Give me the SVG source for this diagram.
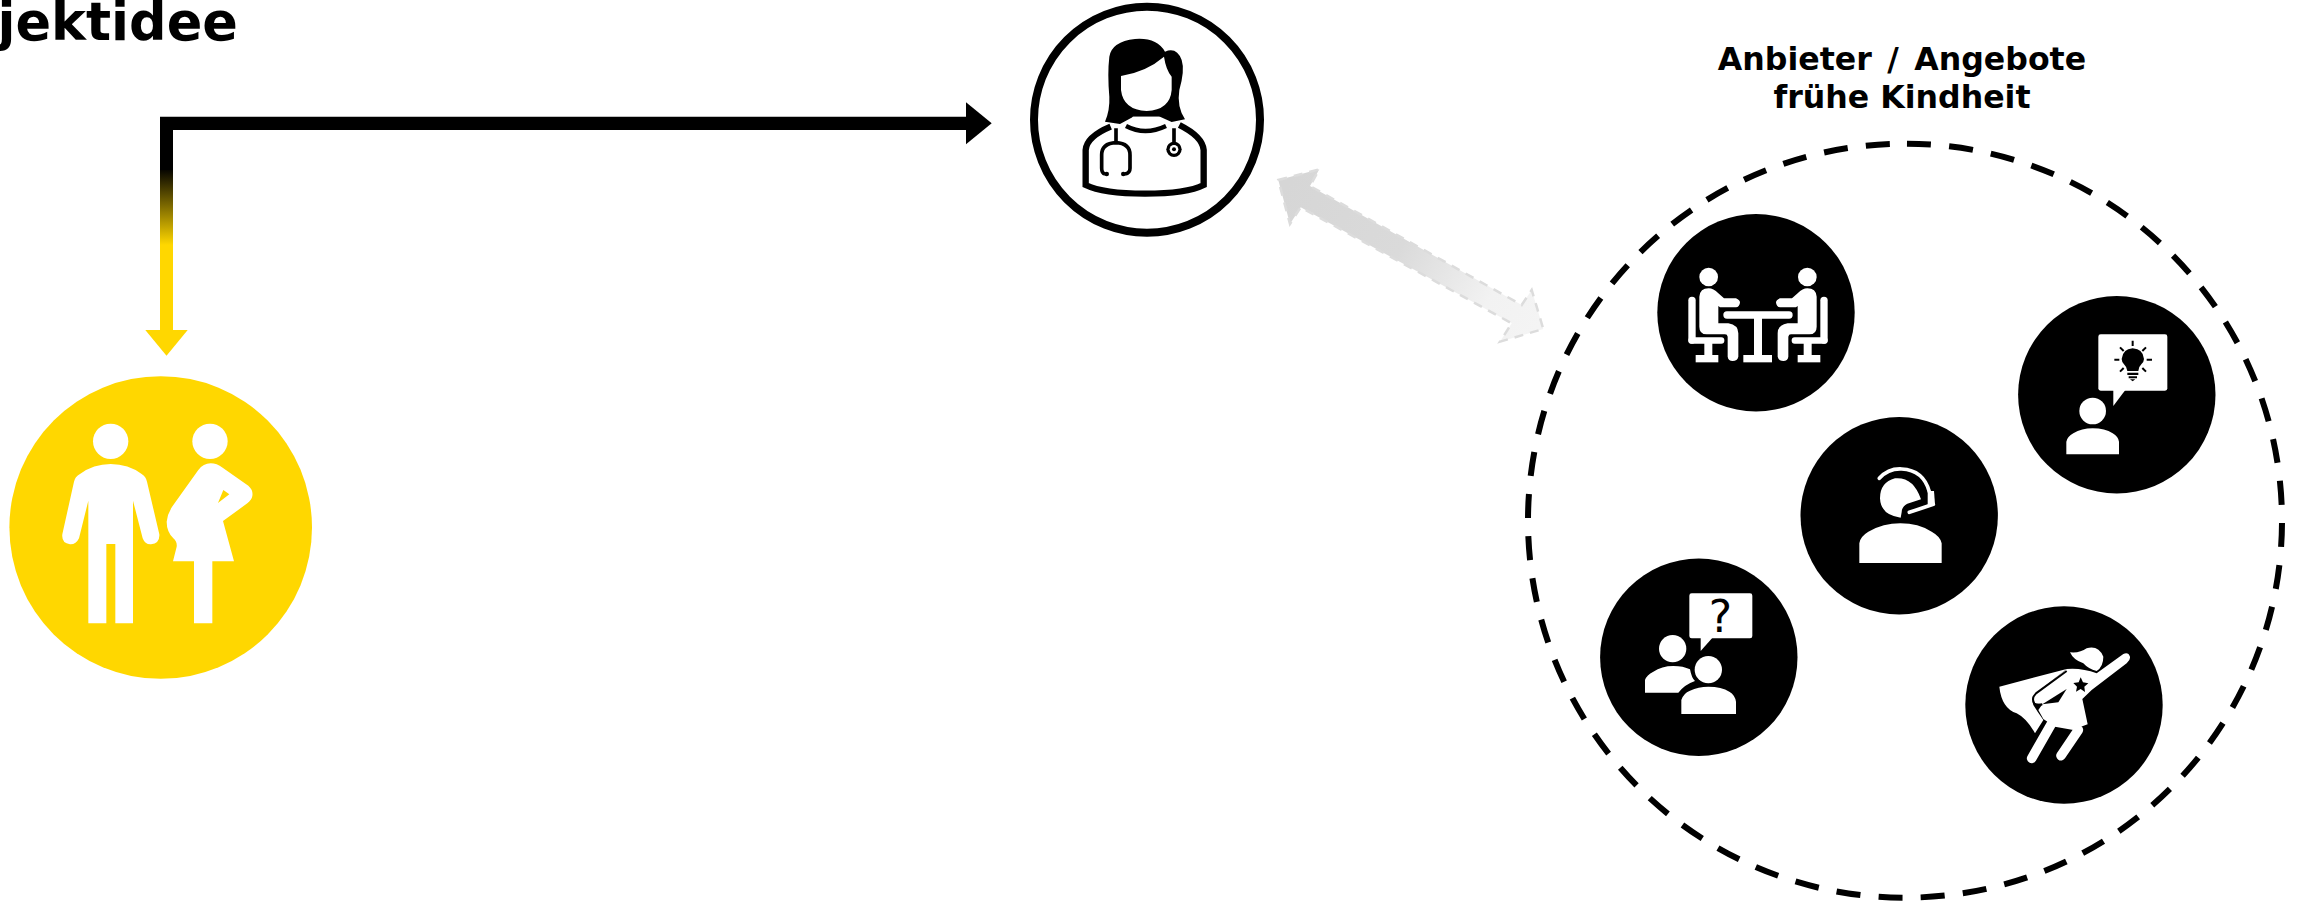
<svg xmlns="http://www.w3.org/2000/svg" width="2303" height="906" viewBox="0 0 2303 906">
<style>
.w{fill:#fff}.k{fill:#000}.y{fill:#FFD700}
.t{font-family:"DejaVu Sans",sans-serif;font-weight:bold;fill:#000}
.ws{fill:none;stroke:#fff;stroke-linecap:round}
.ks{fill:none;stroke:#000}
</style>
<defs>
<linearGradient id="vg" gradientUnits="userSpaceOnUse" x1="0" y1="168" x2="0" y2="245"><stop offset="0" stop-color="#000"/><stop offset="1" stop-color="#FFD700"/></linearGradient>
<linearGradient id="gg" gradientUnits="userSpaceOnUse" x1="1290" y1="180" x2="1540" y2="325"><stop offset="0" stop-color="#d6d6d6"/><stop offset=".45" stop-color="#dadada"/><stop offset=".8" stop-color="#f2f2f2"/><stop offset="1" stop-color="#f4f4f4"/></linearGradient>
<g id="sitter">
<circle class="w" cx="176" cy="231" r="28"/>
<rect class="w" x="115" y="290" width="22" height="141" rx="11"/>
<rect class="w" x="115" y="412" width="108" height="19" rx="9"/>
<rect class="w" x="163" y="428" width="24" height="40"/>
<rect class="w" x="137" y="465" width="68" height="22"/>
<path class="w" d="M148 290Q150 265 176 265Q190 265 205 280L222 295H258Q270 300 270 308Q268 320 258 322H210L205 318V370H235Q265 375 265 400V470Q262 483 248 483Q235 483 233 470V410Q232 403 225 403H170Q148 403 148 380Z"/>
</g>
</defs>
<text class="t" x="-2.500" y="40" font-size="52.500">jektidee</text>
<g id="connectors">
<path d="M166.500 330V168" fill="none" stroke="url(#vg)" stroke-width="13"/>
<path class="k" d="M160 116.700H966V130H173V170H160Z"/>
<path class="k" d="M966 102.300L991.700 123.300L966 144.300Z"/>
<path class="y" d="M145.300 330H187.700L166.500 355.700Z"/>
<path d="M1278.300 180L1319.300 169.300L1310 186L1521.700 305L1531.700 290L1543.300 329L1500 341.700L1511.700 323.300L1300.700 207.300L1290 224Z" fill="url(#gg)" stroke="#dcdcdc" stroke-width="2.500" stroke-dasharray="9 7"/>
</g>
<g id="node-eltern">
<circle class="y" cx="160.700" cy="527.500" r="151.300"/>
<g transform="translate(0 370) scale(.33333)">
<circle class="w" cx="332" cy="214" r="53"/>
<path class="w" d="M265 760V392L237 505Q228 524 210 523Q184 520 187 493L222 335Q225 320 240 312Q280 282 332 282Q385 282 425 312Q438 320 441 335L478 493Q480 520 453 523Q435 524 428 505L399 392V760H346V522H319V760Z"/>
<circle class="w" cx="630" cy="214" r="53"/>
<path class="w" fill-rule="evenodd" d="M582 760V574H519L530 530Q532 515 520 505Q500 485 500 455Q502 430 520 405L595 300Q610 280 632 280Q650 280 668 293L745 347Q760 360 757 378Q755 390 742 400L669 453L702 574H637V760ZM670 360L688 373L654 399Z"/>
</g>
</g>
<g id="node-aerztin">
<circle cx="1147" cy="119.700" r="113" fill="#fff" stroke="#000" stroke-width="8"/>
<g transform="translate(1020 0) scale(.33333)">
<path class="ks" stroke-width="19" d="M272 380Q200 410 197 450V555Q250 581 375 581Q500 581 551 555V450Q548 410 478 375"/>
<path class="k" d="M255 365Q270 330 268 290Q262 220 268 170Q275 125 345 117Q410 112 435 155Q470 140 485 180Q495 210 478 270Q470 320 495 358L455 366L420 350H340L300 372Z"/>
<path class="w" d="M303 228Q380 215 432 170Q438 210 455 230V270Q450 330 380 333Q310 330 303 270Z"/>
<path class="w" d="M338 350H418L425 378H330Z"/>
<path class="ks" stroke-width="13" d="M318 378Q375 408 438 378"/>
<path class="ks" stroke-width="11" d="M288 385V428M255 522Q245 520 245 505V465Q245 430 288 428Q330 430 330 465V505Q330 520 315 522M462 385V432"/>
<circle class="k" cx="260" cy="522" r="7"/><circle class="k" cx="310" cy="522" r="7"/>
<circle class="k" cx="462" cy="448" r="23"/><circle class="w" cx="462" cy="448" r="13"/><circle class="k" cx="462" cy="448" r="6"/>
</g>
</g>
<g id="node-anbieter">
<circle cx="1905" cy="520.700" r="377" fill="none" stroke="#000" stroke-width="6" stroke-dasharray="24 18.300" stroke-dashoffset="-2" transform="rotate(-90 1905 520.700)"/>
<text class="t" x="1902" y="70" font-size="31.600" word-spacing="4.500" text-anchor="middle">Anbieter / Angebote</text>
<text class="t" x="1902" y="107.500" font-size="31.600" text-anchor="middle">frühe Kindheit</text>
</g>
<g id="node-treffen">
<circle class="k" cx="1756" cy="312.700" r="98.700"/>
<g transform="translate(1650 200) scale(.33333)">
<use href="#sitter"/>
<use href="#sitter" transform="translate(648 0) scale(-1 1)"/>
<rect class="w" x="220" y="334" width="208" height="22" rx="11"/>
<rect class="w" x="312" y="350" width="24" height="118"/>
<rect class="w" x="280" y="465" width="86" height="22"/>
</g>
</g>
<g id="node-idee">
<circle class="k" cx="2116.800" cy="394.800" r="98.700"/>
<g transform="translate(2010 285) scale(.33333)">
<rect class="w" x="265" y="148" width="207" height="169" rx="7"/>
<path class="w" d="M310 310V363L350 310Z"/>
<circle class="w" cx="248" cy="378" r="40"/>
<path class="w" d="M169 508V470Q172 455 190 445Q215 430 248 430Q285 430 308 445Q325 455 327 470V508Z"/>
<path class="k" d="M352 258Q350 245 342 238Q335 230 335 222Q338 192 368 190Q400 192 402 222Q402 230 394 238Q386 245 385 258Z"/>
<path class="k" d="M352 263H385V270H352ZM356 274H381V280H356ZM360 283H376L368 289Z"/>
<path class="ks" stroke-width="6" d="M368 167V183M330 187L341 198M408 187L397 198M313 224H328M410 224H426M330 260L341 249M408 260L397 249"/>
</g>
</g>
<g id="node-beratung">
<circle class="k" cx="1899.200" cy="515.800" r="98.700"/>
<g transform="translate(1790 405) scale(.33333)">
<path class="w" d="M208 474V415Q210 395 235 380Q280 355 331 355Q385 355 425 380Q452 395 455 415V474Z"/>
<path class="w" d="M332 338Q272 330 270 280Q270 232 315 220Q370 215 393 283L352 296Q335 305 335 322Z"/>
<path class="ws" stroke-width="11" d="M268 220Q295 190 335 192Q400 195 418 260M358 322L430 298"/>
<path class="w" d="M413 258H432L435 298L413 304Z"/>
</g>
</g>
<g id="node-fragen">
<circle class="k" cx="1698.800" cy="657.300" r="98.700"/>
<g transform="translate(1590 550) scale(.33333)">
<rect class="w" x="298" y="130" width="189" height="135" rx="7"/>
<path class="w" d="M332 260V303L370 260Z"/>
<text x="391" y="247" font-size="132" text-anchor="middle" font-family="DejaVu Sans, sans-serif" fill="#000">?</text>
<circle class="w" cx="248" cy="296" r="41"/>
<circle class="w" cx="355" cy="359" r="41"/>
<path class="w" d="M165 428V390Q170 375 190 365Q215 348 250 348Q280 348 300 358Q305 385 315 393Q285 403 265 428Z"/>
<path class="w" d="M274 492V450Q280 430 300 422Q325 410 355 410Q395 410 418 425Q435 435 438 455V492Z"/>
</g>
</g>
<g id="node-held">
<circle class="k" cx="2064" cy="705" r="98.700"/>
<g transform="translate(1955 595) scale(.33333)">
<path class="w" d="M345 172Q375 175 395 160Q430 150 445 185Q445 215 425 228Q400 222 385 205Q355 195 345 172Z"/>
<path class="w" d="M133 275L335 222L243 295Q228 310 235 330L248 350L265 375L240 415Q215 370 185 355Q140 340 133 275Z"/>
<path class="w" d="M335 222Q380 218 425 235L505 177Q520 170 525 185Q527 195 515 205L410 285L382 312L398 388L378 395L355 405L300 395L265 372L250 345L262 328L238 325Q228 310 243 295Z"/>
<path class="ws" stroke-width="29" d="M290 385L230 490M370 405L318 482"/>
<path class="ks" stroke-width="6" d="M335 228L243 295Q228 310 238 325Q245 332 262 328"/>
<path class="k" d="M335 282L310 322L262 328Z"/>
<path class="k" d="M377 247L384 262L400 265L388 275L390 291L377 282L363 290L366 275L355 264L371 262Z"/>
</g>
</g>
</svg>
